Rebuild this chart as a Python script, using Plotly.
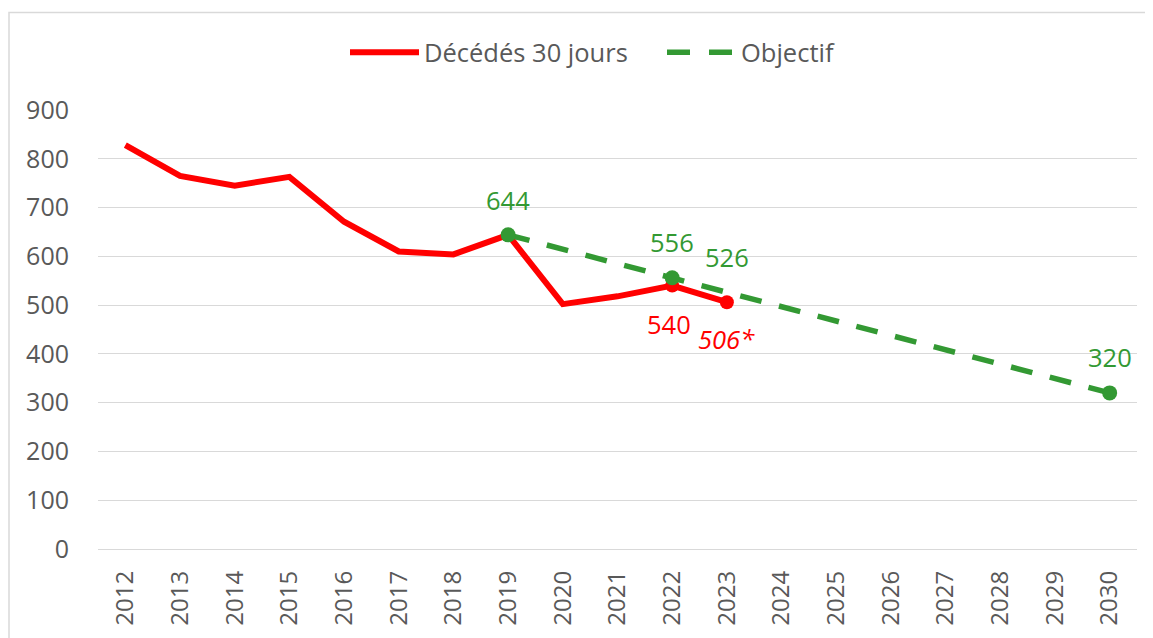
import plotly.graph_objects as go

years = [str(y) for y in range(2012, 2031)]
dec_years = ["2012", "2013", "2014", "2015", "2016", "2017", "2018", "2019", "2020", "2021", "2022", "2023"]
dec_values = [828, 765, 745, 763, 671, 610, 604, 644, 502, 518, 540, 506]
obj_years = ["2019", "2022", "2023", "2030"]
obj_values = [644, 556, 526, 320]
y_ticks = [0, 100, 200, 300, 400, 500, 600, 700, 800, 900]
dec_name = "Décédés 30 jours"
obj_name = "Objectif"

RED = "#ff0000"
GREEN = "#339933"
GRAY = "#595959"
FONT = "Open Sans"
FS = 25.5

# plot area in page pixels (page has 8px body margin)
L, R, T, B = 98, 1137, 110, 551


def px(x):
    return (x - L) / (R - L)


def py(y):
    return (B - y) / (B - T)


def idx(yr):
    return years.index(yr)


fig = go.Figure()
fig.add_trace(go.Scatter(
    x=dec_years, y=dec_values, mode="lines", name=dec_name,
    line=dict(color=RED, width=6), showlegend=False))
fig.add_trace(go.Scatter(
    x=dec_years[-2:], y=dec_values[-2:], mode="markers",
    marker=dict(color=RED, size=14), showlegend=False))
fig.add_trace(go.Scatter(
    x=obj_years, y=obj_values, mode="lines", name=obj_name,
    line=dict(color=GREEN, width=5.5, dash="22px,18px"), showlegend=False))
mk = [0, 1, 3]
fig.add_trace(go.Scatter(
    x=[obj_years[i] for i in mk], y=[obj_values[i] for i in mk], mode="markers",
    marker=dict(color=GREEN, size=15), showlegend=False))

# data labels
for i, ys in [(0, 35), (1, 36), (2, 35), (3, 36)]:
    fig.add_annotation(x=idx(obj_years[i]), y=obj_values[i], text=str(obj_values[i]),
                       showarrow=False, yshift=ys,
                       font=dict(color=GREEN, size=FS, family=FONT))
fig.add_annotation(x=idx(dec_years[-2]), y=dec_values[-2], text=str(dec_values[-2]),
                   showarrow=False, yshift=-38, xshift=-3,
                   font=dict(color=RED, size=FS, family=FONT))
fig.add_annotation(x=idx(dec_years[-1]), y=dec_values[-1], text="<i>%d*</i>" % dec_values[-1],
                   showarrow=False, yshift=-37, xshift=0,
                   font=dict(color=RED, size=FS, family=FONT))

# manual legend
fig.add_shape(type="line", xref="paper", yref="paper", x0=px(350), x1=px(419), y0=py(52), y1=py(52),
              line=dict(color=RED, width=6))
fig.add_annotation(xref="paper", yref="paper", x=px(422), y=py(52), xanchor="left", yanchor="middle",
                   text=dec_name, showarrow=False, font=dict(color=GRAY, size=FS, family=FONT))
fig.add_shape(type="line", xref="paper", yref="paper", x0=px(667), x1=px(734), y0=py(52), y1=py(52),
              line=dict(color=GREEN, width=5.5, dash="23px,19px"))
fig.add_annotation(xref="paper", yref="paper", x=px(739), y=py(52), xanchor="left", yanchor="middle",
                   text=obj_name, showarrow=False, font=dict(color=GRAY, size=FS, family=FONT))

# chart frame (left and top edges visible)
fig.add_shape(type="rect", xref="paper", yref="paper", x0=px(9), x1=px(1200), y0=py(700), y1=py(12),
              line=dict(color="#d9d9d9", width=1.5), layer="below")

fig.update_layout(
    width=1145, height=630,
    margin=dict(l=L - 8, r=8 + 1145 - R, t=T - 8, b=8 + 630 - B),
    paper_bgcolor="white", plot_bgcolor="white",
    font=dict(family=FONT, color=GRAY),
    showlegend=False,
    xaxis=dict(type="category", categoryorder="array", categoryarray=years,
               tickmode="array", tickvals=years, ticktext=years,
               tickangle=-90, tickfont=dict(size=24, color=GRAY, family=FONT),
               showgrid=False, showline=False, zeroline=False, range=[-0.5, 18.5],
               ticks="", ticklabelstandoff=16),
    yaxis=dict(range=[0, 900], tickvals=y_ticks, tickfont=dict(size=25, color=GRAY, family=FONT),
               showgrid=True, gridcolor="#d9d9d9", gridwidth=1.3, zeroline=True,
               zerolinecolor="#d9d9d9", zerolinewidth=1.3, showline=False, ticks="",
               ticklabelstandoff=28),
)

fig.write_html("out.html")
